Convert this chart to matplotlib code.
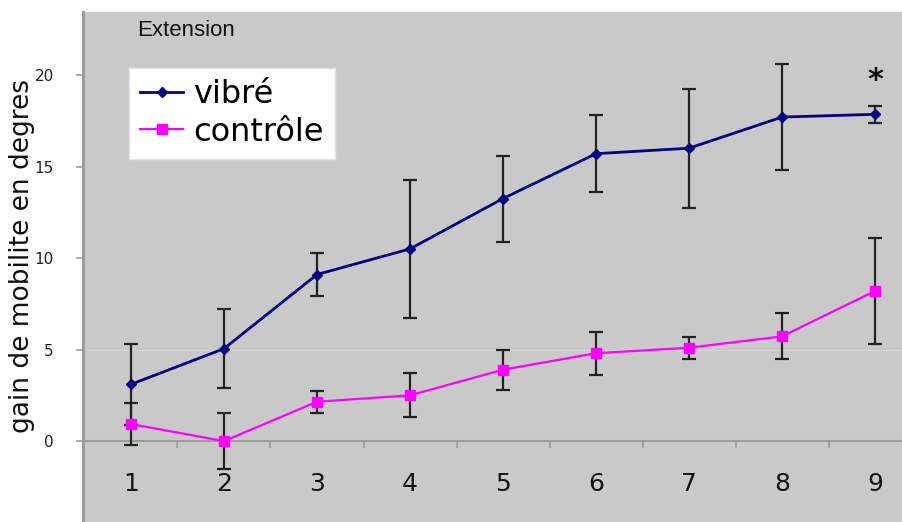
import matplotlib
matplotlib.use("Agg")
import matplotlib.pyplot as plt
from matplotlib.lines import Line2D
from matplotlib.ticker import FixedLocator

# session number, mean gain (degrees) and error bar half-width
sessions = [1, 2, 3, 4, 5, 6, 7, 8, 9]
vibre = [3.1, 5.05, 9.1, 10.5, 13.25, 15.7, 16.0, 17.7, 17.85]
vibre_err = [2.2, 2.15, 1.2, 3.75, 2.35, 2.1, 3.25, 2.9, 0.45]
controle = [0.93, 0.0, 2.15, 2.5, 3.9, 4.8, 5.1, 5.72, 8.2]
controle_err = [1.15, 1.55, 0.6, 1.2, 1.1, 1.18, 0.6, 1.25, 2.9]
yticks = [0, 5, 10, 15, 20]

BG = "#c9c9c9"; AXIS = "#9c9c9c"; NAVY = "#000080"; MAGENTA = "#ff00ff"

fig = plt.figure(figsize=(9.02, 5.22), dpi=100)
ax = fig.add_axes([83 / 902, 0.0, 1 - 83 / 902, 1 - 12 / 522])
ax.set_facecolor(BG)
ax.set_xlim(0.484, 9.29)
ax.set_ylim(-4.42, 23.44)

# faint light line seen at 5
ax.axhline(5, color="#d6d6d6", lw=0.8, zorder=0)

ax.errorbar(sessions, vibre, yerr=vibre_err, color=NAVY, lw=2, marker="D",
            ms=5.5, ecolor="#222222", elinewidth=1.6, capsize=4.8, capthick=1.6,
            zorder=3)
ax.errorbar(sessions, controle, yerr=controle_err, color=MAGENTA, lw=1.6,
            marker="s", ms=7, ecolor="#222222", elinewidth=1.6, capsize=4.8,
            capthick=1.6, zorder=3)

# axes look: x axis crossing at 0, left spine only
for s in ("top", "right"):
    ax.spines[s].set_visible(False)
ax.spines["bottom"].set_position(("data", 0))
ax.spines["bottom"].set_color(AXIS)
ax.spines["bottom"].set_linewidth(1.5)
ax.spines["left"].set_color(AXIS)
ax.spines["left"].set_linewidth(2.2)

ax.set_xticks(sessions)
ax.set_xticklabels([str(s) for s in sessions], fontsize=18, color="#111111")
ax.tick_params(axis="x", which="major", length=0, pad=22)
ax.xaxis.set_minor_locator(FixedLocator([s + 0.5 for s in sessions[:-1]]))
ax.tick_params(axis="x", which="minor", length=5, width=1.2, color=AXIS,
               direction="out")

ax.set_yticks(yticks)
ax.set_yticklabels([str(v) for v in yticks], fontsize=11, color="#222222")
ax.tick_params(axis="y", length=5, width=1.2, color=AXIS, pad=16)

fig.text(22 / 902, 1 - 256 / 522, "gain de mobilite en degres", rotation=90,
         ha="center", va="center", fontsize=19, color="#111111")

fig.text(186 / 902, 1 - 30 / 522, "Extension", ha="center", va="center",
         fontsize=16, family="Liberation Sans", color="#111111")

ax.text(9, 19.7, "*", ha="center", va="center", fontsize=22,
        fontweight="bold", color="#111111")

handles = [Line2D([], [], color=NAVY, lw=2, marker="D", ms=5.5),
           Line2D([], [], color=MAGENTA, lw=1.6, marker="s", ms=7)]
leg = ax.legend(handles, ["vibré", "contrôle"], loc="upper left",
                bbox_to_anchor=((129 - 83) / 819, (522 - 68) / 510),
                borderaxespad=0, fontsize=23, frameon=True, fancybox=False,
                framealpha=1, borderpad=0.35, labelspacing=0.2,
                handletextpad=0.3, handlelength=1.35, numpoints=1)
leg.get_frame().set_facecolor("white")
leg.get_frame().set_edgecolor("#e4e4e4")
leg.get_frame().set_linewidth(1.0)

fig.savefig("out.png", dpi=100, facecolor="white")
